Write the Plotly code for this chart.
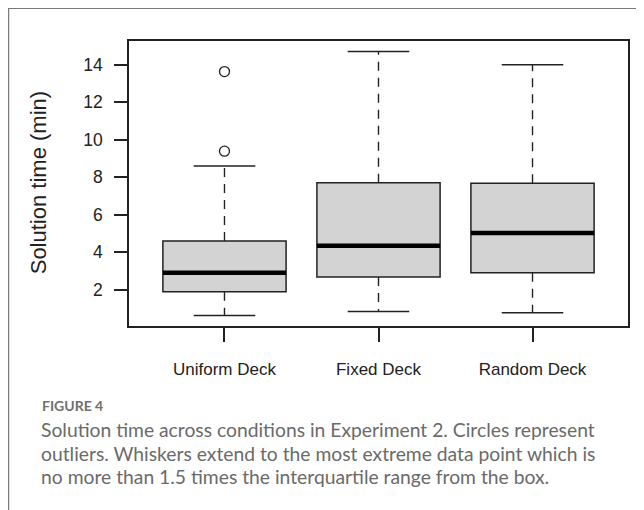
import plotly.graph_objects as go

categories = ["Uniform Deck", "Fixed Deck", "Random Deck"]
lower_whisker = [0.62, 0.83, 0.76]
q1 = [1.89, 2.67, 2.89]
median = [2.89, 4.34, 5.01]
q3 = [4.59, 7.70, 7.67]
upper_whisker = [8.59, 14.69, 13.99]
outlier_cat = [0, 0]
outlier_val = [9.38, 13.62]
y_ticks = [2, 4, 6, 8, 10, 12, 14]

caption_title = "FIGURE 4"
caption_lines = [
    "Solution time across conditions in Experiment 2. Circles represent",
    "outliers. Whiskers extend to the most extreme data point which is",
    "no more than 1.5 times the interquartile range from the box.",
]

# page body has an 8px default margin; the figure is sized to fill the rest
OFF = 8
W, H = 644 - OFF, 510 - OFF
# plot area in window pixels: x 129.3..628, y 40.7..326
L = 129.3 - OFF
R = 644 - 628
T = 40.7 - OFF
B = 510 - 326
pw, ph = W - L - R, H - T - B
SANS = "Arial"

def px_x(p):  # window pixel -> paper
    return (p - OFF - L) / pw

def px_y(p):
    return (H - B - (p - OFF)) / ph

pos = [i + 1 for i in range(len(categories))]
fig = go.Figure()

for i, c in enumerate(categories):
    fig.add_trace(go.Box(
        x=[pos[i]], q1=[q1[i]], median=[median[i]], q3=[q3[i]],
        lowerfence=[q1[i]], upperfence=[q3[i]],
        width=0.8, fillcolor="#d3d3d3",
        line=dict(color="#222222", width=1.5),
        boxpoints=False, showlegend=False, hoverinfo="skip",
    ))

for i in range(len(categories)):
    fig.add_trace(go.Scatter(
        x=[pos[i], pos[i], None, pos[i], pos[i]],
        y=[q3[i], upper_whisker[i], None, q1[i], lower_whisker[i]],
        mode="lines", line=dict(color="#222222", width=1.4, dash="9px,7px"),
        showlegend=False, hoverinfo="skip",
    ))
    fig.add_trace(go.Scatter(
        x=[pos[i] - 0.2, pos[i] + 0.2, None, pos[i] - 0.2, pos[i] + 0.2],
        y=[upper_whisker[i], upper_whisker[i], None, lower_whisker[i], lower_whisker[i]],
        mode="lines", line=dict(color="#222222", width=1.5),
        showlegend=False, hoverinfo="skip",
    ))
    fig.add_trace(go.Scatter(
        x=[pos[i] - 0.4, pos[i] + 0.4], y=[median[i], median[i]],
        mode="lines", line=dict(color="#000000", width=4.5),
        showlegend=False, hoverinfo="skip",
    ))

fig.add_trace(go.Scatter(
    x=[pos[k] for k in outlier_cat], y=outlier_val, mode="markers",
    marker=dict(symbol="circle-open", size=10, color="#222222", line=dict(width=1.3)),
    showlegend=False, hoverinfo="skip",
))

all_vals = lower_whisker + upper_whisker + outlier_val
lo, hi = min(all_vals), max(all_vals)
pad = 0.04 * (hi - lo)

fig.update_xaxes(
    range=[0.5 - 0.04 * 3, 3.5 + 0.04 * 3],
    tickvals=pos, ticktext=categories,
    ticks="outside", ticklen=14, tickwidth=1.5, tickcolor="#222222",
    ticklabelstandoff=13,
    showline=True, linecolor="#222222", linewidth=1.5, mirror=True,
    showgrid=False, zeroline=False,
    tickfont=dict(family=SANS, size=17, color="#222222"),
)
fig.update_yaxes(
    range=[lo - pad, hi + pad],
    tickvals=y_ticks, ticktext=[str(v) for v in y_ticks],
    ticks="outside", ticklen=13, tickwidth=1.5, tickcolor="#222222",
    ticklabelstandoff=8,
    showline=True, linecolor="#222222", linewidth=1.5, mirror=True,
    showgrid=False, zeroline=False,
    tickfont=dict(family=SANS, size=17.5, color="#222222"),
)

annotations = [
    dict(text="Solution time (min)", textangle=-90, x=px_x(39), y=px_y(182.5),
         xref="paper", yref="paper", showarrow=False, xanchor="center", yanchor="middle",
         font=dict(family=SANS, size=22, color="#222222")),
    dict(text=caption_title, x=px_x(40.5), y=px_y(406), xref="paper", yref="paper",
         showarrow=False, xanchor="left", yanchor="middle",
         font=dict(family="Lato", size=14, color="#707070", weight=700)),
]
for j, line in enumerate(caption_lines):
    annotations.append(dict(
        text=line, x=px_x(39.5), y=px_y(430 + 23.2 * j), xref="paper", yref="paper",
        showarrow=False, xanchor="left", yanchor="middle",
        font=dict(family="Lato", size=19.3, color="#6a6a6a")))

shapes = [
    dict(type="line", xref="paper", yref="paper", x0=px_x(8.6), x1=px_x(8.6),
         y0=px_y(7.6), y1=px_y(520), line=dict(color="#7a7a7a", width=2)),
    dict(type="line", xref="paper", yref="paper", x0=px_x(8.6), x1=px_x(660),
         y0=px_y(7.6), y1=px_y(7.6), line=dict(color="#7a7a7a", width=2)),
]

fig.update_layout(
    width=W, height=H,
    margin=dict(l=L, r=R, t=T, b=B),
    paper_bgcolor="white", plot_bgcolor="white",
    font=dict(family=SANS),
    annotations=annotations, shapes=shapes,
    showlegend=False,
)

fig.write_html("out.html")
